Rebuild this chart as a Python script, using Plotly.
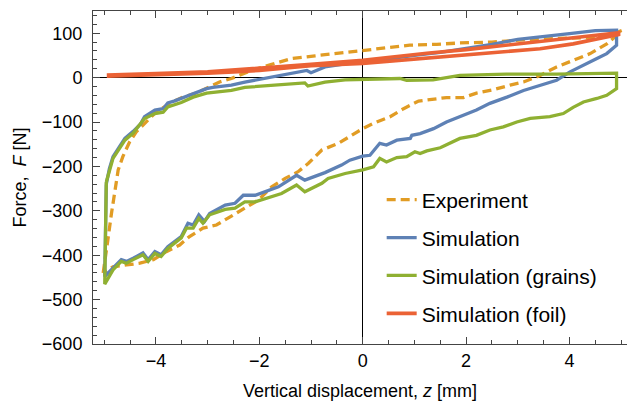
import plotly.graph_objects as go

# ---------------- data (closed hysteresis loops) ----------------
exp_z = [-5.02, -4.99, -4.93, -4.86, -4.77, -4.73, -4.64, -4.51, -4.38, -4.19, -3.99, -3.73, -3.48, -3.22,
         -2.96, -2.77, -2.54, -2.15, -1.76, -1.37, -0.92, -0.54, 0.0, 0.46, 0.91, 1.43, 1.88, 2.5, 3.11,
         3.75, 4.4, 4.72, 5.01,
         4.95, 4.72, 4.4, 4.07, 3.75, 3.43, 3.11, 2.85, 2.5, 2.2, 1.95, 1.62, 1.37, 1.08, 0.79, 0.53,
         0.21, 0.0, -0.47, -0.79, -1.05, -1.25, -1.5, -1.76, -2.02, -2.34, -2.62, -2.83, -3.09, -3.35,
         -3.54, -3.8, -4.05, -4.31, -4.57, -4.83, -5.02]
exp_f = [-440, -410, -366, -306, -231, -208, -178, -145, -122, -100, -77, -58, -44, -35,
         -21, -10, -2, 16, 30, 43, 49, 54, 61, 67, 73, 75, 78, 80, 85,
         88, 90, 93, 106,
         99, 76, 54, 39, 24, 5, -10, -17, -28, -35, -45, -45, -49, -53, -70, -88,
         -103, -115, -148, -163, -193, -212, -227, -246, -276, -298, -319, -332, -339, -358,
         -377, -392, -410, -418, -422, -426, -440]

sim_z = [-4.96, -4.9, -4.83, -4.7, -4.6, -4.44, -4.3, -4.22, -4.1, -4.02, -3.86, -3.77, -3.65, -3.51,
         -3.4, -3.28, -3.15, -3.02, -2.9, -2.77, -2.54, -2.28, -2.1, -1.89, -1.6, -1.37, -1.2, -1.08,
         -1.0, -0.73, -0.34, 0.0, 0.5, 1.0, 1.5, 2.0, 2.5, 3.0, 3.5, 4.0, 4.5, 4.91,
         4.91, 4.72, 4.53, 4.27, 4.01, 3.75, 3.43, 3.11, 2.79, 2.46, 2.2, 1.88, 1.62, 1.37, 1.11, 0.95,
         0.92, 0.66, 0.46, 0.33, 0.14, 0.0, -0.25, -0.41, -0.73, -1.12, -1.28, -1.63, -1.89, -2.08,
         -2.31, -2.47, -2.66, -2.96, -3.06, -3.17, -3.28, -3.38, -3.51, -3.77, -3.9, -4.02, -4.15,
         -4.25, -4.44, -4.57, -4.67, -4.83, -4.99, -4.96]
sim_f = [-240, -205, -178, -155, -137, -121, -105, -88, -80, -73, -70, -57, -53, -47,
         -42, -36, -30, -25, -22, -20, -17, -10, -6, -2, 4, 9, 13, 16,
         11, 24, 31, 35, 42, 50, 57, 66, 75, 86, 92, 99, 106, 107,
         73, 54, 43, 28, 13, -6, -17, -29, -44, -58, -73, -88, -100, -115, -126, -130,
         -137, -141, -152, -148, -175, -177, -186, -197, -214, -231, -220, -246, -257, -265,
         -265, -283, -287, -306, -324, -309, -332, -328, -358, -381, -399, -392, -410,
         -395, -407, -414, -410, -429, -448, -240]

grn_z = [-4.96, -4.83, -4.6, -4.44, -4.22, -4.02, -3.86, -3.77, -3.51, -3.28, -3.02, -2.77, -2.54,
         -2.28, -1.7, -1.12, -1.06, -0.73, -0.34, 0.0, 0.72, 0.85, 1.36, 1.88, 2.4, 2.78, 3.75, 4.4,
         4.91,
         4.91, 4.72, 4.53, 4.27, 4.07, 3.88, 3.62, 3.24, 2.98, 2.72, 2.46, 2.2, 1.88, 1.66, 1.5, 1.24,
         1.11, 1.01, 0.85, 0.66, 0.46, 0.33, 0.21, 0.0, -0.34, -0.67, -0.79, -1.12, -1.28, -1.57,
         -1.76, -1.89, -2.08, -2.28, -2.47, -2.66, -2.96, -3.09, -3.17, -3.28, -3.41, -3.51, -3.77,
         -3.9, -4.02, -4.15, -4.25, -4.44, -4.57, -4.67, -4.83, -4.99, -4.96]
grn_f = [-235, -182, -141, -125, -92, -81, -78, -66, -56, -44, -35, -32, -29,
         -22, -17, -12, -19, -10, -5, -4, -2, -6, -5, 5, 7, 8, 8, 10,
         10,
         -25, -40, -47, -55, -67, -81, -88, -92, -100, -111, -118, -130, -137, -148, -158, -165,
         -171, -167, -178, -180, -190, -182, -201, -208, -216, -227, -238, -257, -242, -261,
         -268, -272, -280, -280, -294, -297, -309, -328, -317, -339, -339, -361, -385,
         -403, -396, -414, -399, -410, -418, -414, -433, -465, -235]

foil_z = [-4.95, -4.0, -3.0, -2.5, -2.0, -1.37, -1.0, 0.0, 1.0, 1.5, 2.0, 2.46, 3.0, 3.43, 4.07, 4.5,
          4.95, 4.95, 4.5, 4.07, 3.43, 2.46, 2.0, 1.24, 0.0, -1.0, -1.37, -2.0, -2.5, -3.0, -4.0, -4.95]
foil_f = [3, 6, 10, 13, 16, 23, 27, 32, 42, 47, 52, 56, 62, 65, 76, 86,
          97, 101, 95, 90, 82, 69, 63, 55, 39, 30, 27, 20, 16, 13, 9, 6]

names = ["Experiment", "Simulation", "Simulation (grains)", "Simulation (foil)"]
x_ticks = [-4, -2, 0, 2, 4]
y_ticks = [-600, -500, -400, -300, -200, -100, 0, 100]

FONT = "Liberation Sans, Arial, sans-serif"
LW = 3.3

fig = go.Figure()
fig.add_trace(go.Scatter(x=exp_z, y=exp_f, mode="lines", name=names[0], legendgroup="a",
                         line=dict(color="#E19C24", width=LW, dash="9px,5px")))
fig.add_trace(go.Scatter(x=sim_z, y=sim_f, mode="lines", name=names[1], legendgroup="b",
                         line=dict(color="#5E81B5", width=LW)))
fig.add_trace(go.Scatter(x=grn_z, y=grn_f, mode="lines", name=names[2], legendgroup="c",
                         line=dict(color="#8FB032", width=LW)))
fig.add_trace(go.Scatter(x=foil_z, y=foil_f, mode="lines", name=names[3], legendgroup="d",
                         line=dict(color="#EB6235", width=3.6)))

axcol = "#444444"
fig.update_layout(
    width=627, height=401,
    margin=dict(l=93, r=0, t=11, b=57, autoexpand=False),
    paper_bgcolor="white", plot_bgcolor="white",
    font=dict(family=FONT, size=18, color="black"),
    showlegend=True,
    legend=dict(x=0.5406, y=0.494, xanchor="left", yanchor="top", bgcolor="rgba(0,0,0,0)",
                font=dict(size=21), tracegroupgap=7.6, itemwidth=30),
    xaxis=dict(range=[-5.217, 5.112], showgrid=False, zeroline=True, zerolinecolor="black",
               zerolinewidth=1, showline=True, linecolor=axcol, linewidth=1, mirror="ticks",
               ticks="inside", ticklen=7, tickcolor=axcol, tickvals=x_ticks, automargin=False,
               minor=dict(dtick=0.5, tick0=0, ticks="inside", ticklen=4, tickcolor=axcol),
               ticklabelstandoff=0,
               title=dict(text="Vertical displacement, <i>z</i> [mm]", standoff=17,
                          font=dict(size=18))),
    yaxis=dict(range=[-600, 150], showgrid=False, zeroline=True, zerolinecolor="black",
               zerolinewidth=1, showline=True, linecolor=axcol, linewidth=1, mirror=False,
               ticks="inside", ticklen=7, tickcolor=axcol, tickvals=y_ticks, automargin=False,
               minor=dict(dtick=20, tick0=0, ticks="inside", ticklen=4, tickcolor=axcol),
               ticklabelstandoff=6,
               title=dict(text="Force,\u00a0 <i>F</i> [N]", standoff=10, font=dict(size=18))),
)

fig.write_html("out.html", config={"displayModeBar": False},
               post_script="document.body.style.margin='0';document.body.style.overflow='hidden';")
